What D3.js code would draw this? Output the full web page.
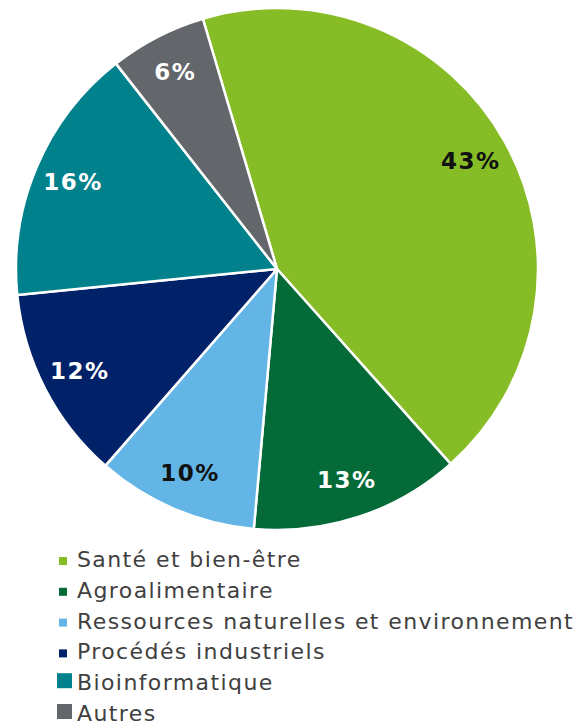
<!DOCTYPE html>
<html>
<head>
<meta charset="utf-8">
<script src="https://cdn.jsdelivr.net/npm/d3@7"></script>
<style>
  body { margin: 0; background: #fff; }
  svg { display: block; }
</style>
</head>
<body>
<svg id="chart" width="579" height="728"></svg>
<script>
// Chart data
const categories = ["Santé et bien-être", "Agroalimentaire", "Ressources naturelles et environnement",
                    "Procédés industriels", "Bioinformatique", "Autres"];
const values = [43, 13, 10, 12, 16, 6];
const colors = ["#86bc25", "#046a38", "#62b5e5", "#012169", "#00818b", "#63666a"];
const labelColors = ["#111", "#fff", "#111", "#fff", "#fff", "#fff"];

const svg = d3.select("#chart");
const cx = 277, cy = 269, radius = 261;

// Pie layout, starting a bit left of 12 o'clock
const startAngle = -16.5 * Math.PI / 180;
const pie = d3.pie()
    .sort(null)
    .startAngle(startAngle)
    .endAngle(startAngle + 2 * Math.PI)
    .value(d => d);

const arcs = pie(values);
const arc = d3.arc().innerRadius(0).outerRadius(radius);
const labelArc = d3.arc().innerRadius(radius * 0.85).outerRadius(radius * 0.85);

const g = svg.append("g").attr("transform", `translate(${cx},${cy})`);

g.selectAll("path.slice")
    .data(arcs)
    .join("path")
    .attr("class", "slice")
    .attr("d", arc)
    .attr("fill", (d, i) => colors[i])
    .attr("stroke", "#fff")
    .attr("stroke-width", 2.5)
    .attr("stroke-linejoin", "round");

// Percent labels
g.selectAll("text.pct")
    .data(arcs)
    .join("text")
    .attr("class", "pct")
    .attr("transform", d => `translate(${labelArc.centroid(d)})`)
    .attr("text-anchor", "middle")
    .attr("dy", "0.36em")
    .attr("font-family", "DejaVu Sans, Verdana, sans-serif")
    .attr("font-weight", "bold")
    .attr("font-size", 23)
    .attr("letter-spacing", 1.5)
    .attr("fill", (d, i) => labelColors[i])
    .text(d => d.data + "%");

// Legend
const legend = svg.append("g").attr("transform", "translate(57,567)");
const items = legend.selectAll("g")
    .data(categories)
    .join("g")
    .attr("transform", (d, i) => `translate(0,${i * 30.8})`);

items.append("rect")
    .attr("x", (d, i) => i < 4 ? 2 : 0)
    .attr("y", (d, i) => i < 4 ? -10 : -17)
    .attr("width", (d, i) => i < 4 ? 8 : 15)
    .attr("height", (d, i) => i < 4 ? 8 : 15)
    .attr("fill", (d, i) => colors[i]);

items.append("text")
    .attr("x", 20)
    .attr("font-family", "DejaVu Sans, Verdana, sans-serif")
    .attr("font-size", 22)
    .attr("letter-spacing", 1.4)
    .attr("fill", "#404040")
    .text(d => d);
</script>
</body>
</html>
